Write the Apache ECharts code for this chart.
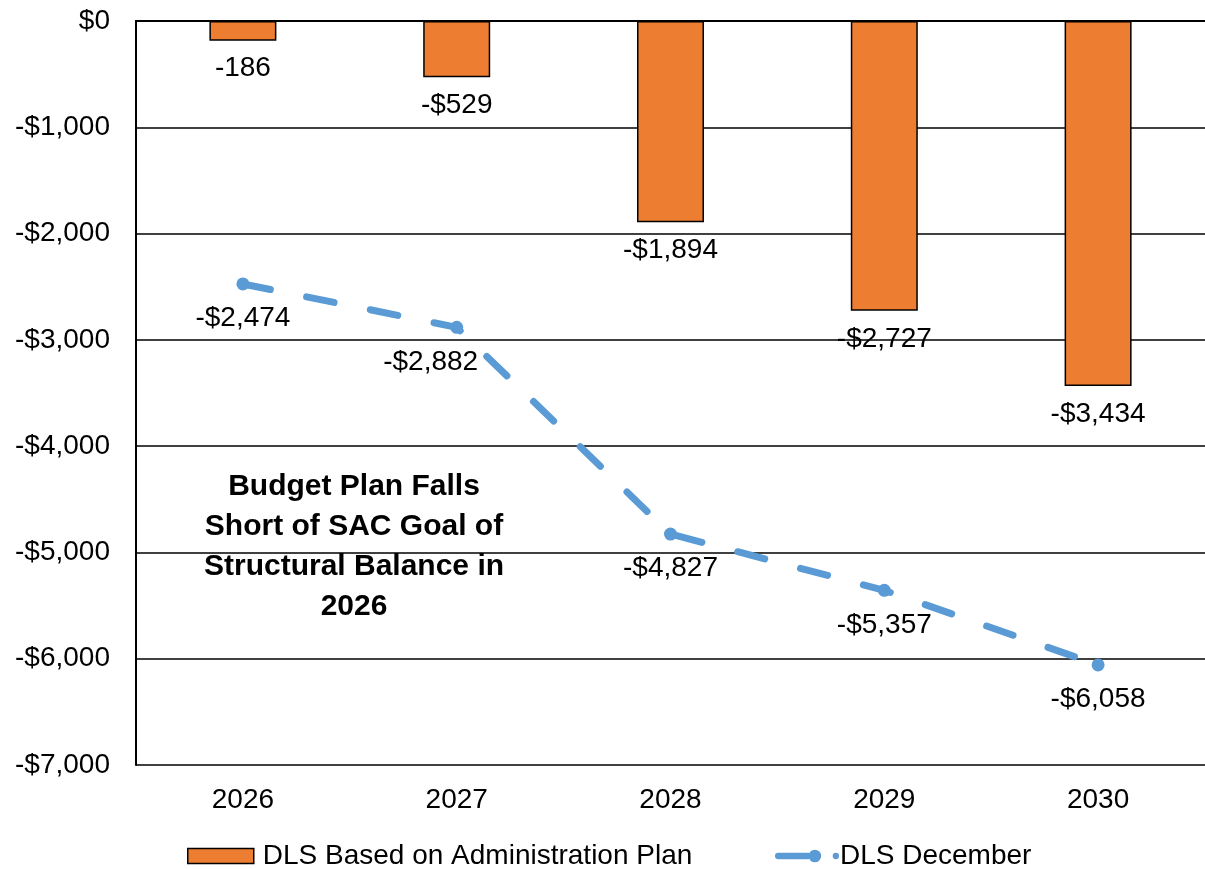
<!DOCTYPE html>
<html>
<head>
<meta charset="utf-8">
<script src="https://cdn.jsdelivr.net/npm/echarts@6/dist/echarts.min.js"></script>
<style>
  html, body { margin: 0; padding: 0; background: #fff; }
  #chart { width: 1205px; height: 869px; }
</style>
</head>
<body>
<div id="chart"></div>
<script>
// 数据
const years = ['2026', '2027', '2028', '2029', '2030'];
const adminPlan = [-186, -529, -1894, -2727, -3434];
const adminLabels = ['-186', '-$529', '-$1,894', '-$2,727', '-$3,434'];
const december = [-2474, -2882, -4827, -5357, -6058];
const noteLines = ['Budget Plan Falls', 'Short of SAC Goal of', 'Structural Balance in', '2026'];

const FONT = '"Liberation Sans", Arial, sans-serif';
const FS = 28;
const ORANGE = '#ED7D31';
const BLUE = '#5B9BD5';

const fmtMoney = v => {
    if (v === 0) return '$0';
    const s = Math.abs(v).toLocaleString('en-US');
    return (v < 0 ? '-$' : '$') + s;
};

const chart = echarts.init(document.getElementById('chart'));

// legend icon for the dashed line: round line + marker + small dot
const lineIcon = 'path://M3,4 L32.5,4 L32.5,10 L3,10 A3,3 0 0 1 3,4 Z M32,7 A6,6 0 1 1 44,7 A6,6 0 1 1 32,7 Z M55,7 A3,3 0 1 1 61,7 A3,3 0 1 1 55,7 Z';

chart.setOption({
    animation: false,
    backgroundColor: '#fff',
    textStyle: { fontFamily: FONT },
    grid: { left: 136, top: 21, width: 1078, height: 744, containLabel: false },
    legend: [
        {
            left: 187, top: 842, padding: 0,
            itemWidth: 66, itemHeight: 15,
            textStyle: { fontSize: FS, color: '#000', fontFamily: FONT, padding: [0, 0, 0, 4] },
            data: [{ name: 'DLS Based on Administration Plan', icon: 'rect', itemStyle: { color: ORANGE, borderColor: '#000', borderWidth: 1.5 } }]
        },
        {
            left: 775, top: 842, padding: 0,
            itemWidth: 64, itemHeight: 14,
            textStyle: { fontSize: FS, color: '#000', fontFamily: FONT, padding: [0, 0, 0, -4] },
            data: [{ name: 'DLS December', icon: lineIcon, itemStyle: { color: BLUE, borderWidth: 0 } }]
        }
    ],
    xAxis: {
        type: 'category',
        data: years,
        axisLine: { lineStyle: { color: '#000', width: 2 } },
        axisTick: { show: false },
        axisLabel: { color: '#000', fontSize: FS, margin: 21, fontFamily: FONT }
    },
    yAxis: {
        type: 'value',
        min: -7000, max: 0, interval: 1000,
        axisLine: { show: true, lineStyle: { color: '#000', width: 2 } },
        axisTick: { show: false },
        splitLine: { lineStyle: { color: '#000', width: 1.5 } },
        axisLabel: { color: '#000', fontSize: FS, margin: 26, fontFamily: FONT, formatter: fmtMoney }
    },
    series: [
        {
            name: 'DLS Based on Administration Plan',
            type: 'bar',
            data: adminPlan,
            barWidth: 67,
            itemStyle: { color: ORANGE, borderColor: '#000', borderWidth: 1.5 },
            label: {
                show: true, position: 'bottom', distance: 14,
                color: '#000', fontSize: FS, fontFamily: FONT,
                formatter: p => adminLabels[p.dataIndex]
            },
            z: 2
        },
        {
            name: 'DLS December',
            type: 'line',
            data: december.map((v, i) => i === 1
                ? { value: v, label: { offset: [-26, 0] } }
                : v),
            symbol: 'circle',
            symbolSize: 13,
            itemStyle: { color: BLUE },
            lineStyle: { color: BLUE, width: 7, type: [28, 37], cap: 'round' },
            label: {
                show: true, position: 'bottom', distance: 14,
                color: '#000', fontSize: FS, fontFamily: FONT,
                formatter: p => fmtMoney(p.value)
            },
            z: 3
        }
    ],
    graphic: [{
        type: 'text',
        x: 354, y: 547,
        style: {
            text: noteLines.join('\n'),
            font: 'bold 30px ' + FONT,
            fill: '#000',
            align: 'center',
            verticalAlign: 'middle',
            lineHeight: 40
        }
    }]
});
</script>
</body>
</html>
